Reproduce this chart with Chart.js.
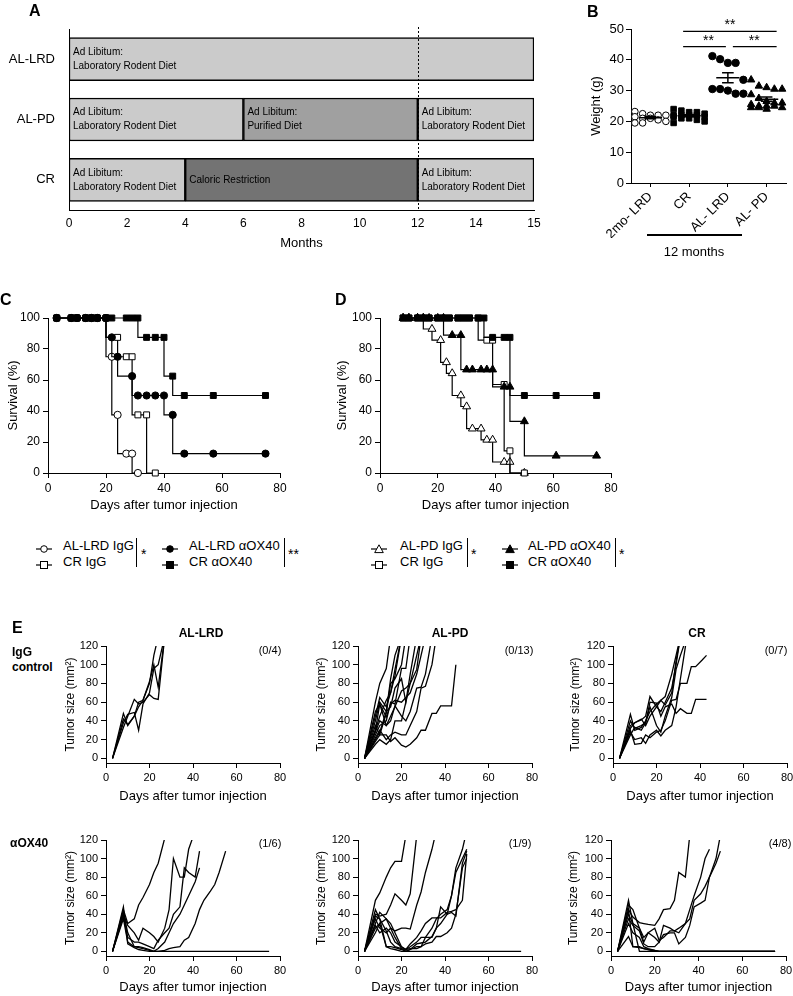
<!DOCTYPE html>
<html>
<head>
<meta charset="utf-8">
<script src="https://cdn.jsdelivr.net/npm/chart.js@4.4.1/dist/chart.umd.min.js"></script>
<style>
  html, body { margin: 0; padding: 0; background: #fff; overflow: hidden; }
  #fig { position: relative; width: 793px; height: 996px; overflow: hidden;
         font-family: "Liberation Sans", Arial, Helvetica, sans-serif; color: #000; }
  #fig canvas { position: absolute; }
  .t { position: absolute; white-space: nowrap; line-height: 1; }
  .rule { position: absolute; background: #000; }
</style>
</head>
<body>
<div id="fig"></div>
<script>
const FONT = "'Liberation Sans', Arial, Helvetica, sans-serif";
Chart.defaults.font.family = FONT;
Chart.defaults.color = "#000";

// ---------- A: diet timeline ----------
const dietGroups = ["AL-LRD", "AL-PD", "CR"];
const segGroup = [0, 1, 1, 1, 2, 2, 2];
const segStart = [0, 0, 6, 12, 0, 4, 12];
const segEnd = [15, 6, 12, 15, 4, 12, 15];
const segDiet = ["LRD", "LRD", "PD", "LRD", "LRD", "CR", "LRD"];
const dietText = {
  LRD: ["Ad Libitum:", "Laboratory Rodent Diet"],
  PD: ["Ad Libitum:", "Purified Diet"],
  CR: ["Caloric Restriction"],
};
const dietColor = { LRD: "#cbcbcb", PD: "#a0a0a0", CR: "#737373" };
const monthTicks = [0, 2, 4, 6, 8, 10, 12, 14, 15];

// ---------- B: body weight (g) ----------
const weightGroups = ["2mo- LRD", "CR", "AL- LRD", "AL- PD"];
const weight2moLRD = [23.2, 22.5, 22, 22, 21.5, 21, 20.5, 20, 19.5, 19.5, 21, 22];
const weightCR = [24, 23.5, 23, 22.5, 22, 22, 21.5, 21, 21, 20.5, 20, 19.5, 22, 23, 22, 21.5];
const weightALLRD = [41.2, 40.2, 39, 39, 33.5, 30.5, 30, 29, 29, 30.5];
const weightALPD = [33.5, 31.5, 31, 30.5, 30.5, 28.7, 27.5, 26.5, 26, 25.5, 25, 25, 24.5, 24.5, 24, 24.5, 25, 26];

// ---------- C: survival (%) ----------
const cDaysCRaOX40 = [3, 8, 10, 13, 15, 17, 20, 22, 27, 29, 31, 34, 37, 40, 43, 47, 57, 75];
const cSurvCRaOX40 = [100, 100, 100, 100, 100, 100, 100, 100, 100, 100, 100, 87.5, 87.5, 87.5, 62.5, 50, 50, 50];
const cDaysLRDaOX40 = [3, 8, 10, 13, 15, 17, 20, 22, 24, 29, 31, 34, 37, 40, 43, 47, 57, 75];
const cSurvLRDaOX40 = [100, 100, 100, 100, 100, 100, 100, 87.5, 75, 62.5, 50, 50, 50, 50, 37.5, 12.5, 12.5, 12.5];
const cDaysCRIgG = [3, 8, 10, 13, 15, 17, 20, 24, 27, 29, 31, 34, 37];
const cSurvCRIgG = [100, 100, 100, 100, 100, 100, 100, 87.5, 75, 75, 37.5, 37.5, 0];
const cDaysLRDIgG = [3, 8, 10, 13, 15, 17, 20, 22, 24, 27, 29, 31];
const cSurvLRDIgG = [100, 100, 100, 100, 100, 100, 100, 75, 37.5, 12.5, 12.5, 0];

// ---------- D: survival (%) ----------
const dDaysCRaOX40 = [8, 10, 13, 15, 17, 20, 22, 24, 27, 29, 31, 34, 36, 39, 43, 45, 50, 61, 75];
const dSurvCRaOX40 = [100, 100, 100, 100, 100, 100, 100, 100, 100, 100, 100, 100, 100, 87.5, 87.5, 87.5, 50, 50, 50];
const dDaysPDaOX40 = [8, 10, 13, 15, 17, 20, 22, 25, 28, 30, 32, 35, 37, 39, 43, 45, 50, 61, 75];
const dSurvPDaOX40 = [100, 100, 100, 100, 100, 100, 100, 88.9, 88.9, 66.7, 66.7, 66.7, 66.7, 66.7, 55.6, 55.6, 33.3, 11.1, 11.1];
const dDaysCRIgG = [8, 10, 13, 15, 17, 20, 22, 24, 27, 29, 31, 34, 37, 39, 43, 45, 50];
const dSurvCRIgG = [100, 100, 100, 100, 100, 100, 100, 100, 100, 100, 100, 100, 85.7, 85.7, 57.1, 14.3, 0];
const dDaysPDIgG = [8, 10, 13, 15, 18, 21, 23, 25, 28, 30, 32, 35, 37, 39, 43, 45, 50];
const dSurvPDIgG = [100, 100, 100, 100, 92.9, 85.7, 71.4, 64.3, 50, 42.9, 28.6, 28.6, 21.4, 21.4, 7.1, 7.1, 0];

// ---------- E: tumor size (mm2) per mouse, on these measurement days ----------
const measureDays = [3, 8, 10, 13, 15, 17, 20, 22, 24, 27, 29, 31, 34, 36, 38, 41, 43, 45, 48, 50, 52, 55, 57, 62, 66, 69, 75];
const tumorTicks = [0, 20, 40, 60, 80, 100, 120];

const tumorLRDIgG = [
  [0, 48, 35, 45, 60, 62, 80, 110, 130],
  [0, 38, 47, 49, 30, 58, 70, 96, 100, 130],
  [0, 33, 45, 63, 58, 60, 68, 64, 63, 130],
  [0, 42, 36, 45, 55, 62, 82, 100, 76, 130],
];
const tumorPDIgG = [
  [0, 60, 80, 96, 130],
  [0, 40, 60, 50, 85, 110, 130],
  [0, 30, 45, 62, 70, 88, 130],
  [0, 25, 35, 40, 60, 58, 96, 96, 130],
  [0, 20, 28, 50, 55, 75, 85, 60, 90, 130],
  [0, 15, 20, 15, 20, 40, 40, 60, 80, 110, 130],
  [0, 35, 25, 48, 80, 85, 100, 130],
  [0, 22, 30, 20, 25, 28, 25, 25, 35, 50, 75, 77, 100, 130],
  [0, 18, 25, 25, 18, 22, 14, 12, 15, 22, 30, 30, 48, 48, 56, 56, 56, 100],
  [0, 45, 65, 55, 70, 95, 130],
  [0, 28, 40, 35, 45, 55, 72, 75, 80, 95, 130],
  [0, 50, 58, 44, 58, 62, 60, 65, 70, 90, 110, 130],
  [0, 30, 58, 35, 40, 56, 45, 40, 50, 75, 76, 90, 130],
];
const tumorCRIgG = [
  [0, 47, 30, 33, 40, 50, 58, 62, 66, 90, 110, 130],
  [0, 35, 38, 41, 45, 66, 55, 50, 60, 75, 100, 130],
  [0, 30, 15, 16, 25, 22, 28, 30, 40, 62, 63, 80, 80, 98, 98, 105, 110],
  [0, 28, 20, 22, 16, 25, 30, 24, 30, 35, 55, 85, 130],
  [0, 40, 32, 35, 38, 60, 59, 45, 55, 58, 48, 53, 48, 48, 63, 63, 63],
  [0, 32, 38, 42, 35, 45, 55, 62, 57, 70, 104, 130],
  [0, 25, 33, 30, 38, 55, 35, 28, 45, 65, 95, 110, 130],
];
const tumorLRDaOX40 = [
  [0, 45, 30, 35, 50, 58, 72, 85, 95, 122],
  [0, 40, 28, 20, 12, 25, 20, 16, 10, 25, 45, 100, 80, 80, 110, 130],
  [0, 38, 15, 10, 10, 8, 5, 3, 12, 20, 25, 40, 48, 90, 85, 80, 108],
  [0, 42, 20, 5, 5, 4, 2, 0, 3, 10, 20, 30, 40, 50, 60, 75, 90],
  [0, 35, 10, 5, 4, 3, 1, 0, 0, 1, 3, 4, 5, 12, 15, 30, 45, 55, 65, 72, 85, 108],
  [0, 48, 8, 4, 2, 1, 0, 0, 0, 0, 0, 0, 0, 0, 0, 0, 0, 0, 0, 0, 0, 0, 0, 0, 0, 0, 0],
];
const tumorPDaOX40 = [
  [0, 55, 63, 80, 90, 97, 97, 125],
  [0, 40, 38, 40, 50, 62, 55, 50, 62, 125],
  [0, 30, 42, 35, 25, 22, 25, 25, 24, 50, 64, 85, 110, 130],
  [0, 25, 30, 35, 30, 20, 5, 2, 5, 10, 15, 15, 25, 35, 40, 45, 60, 90, 110, 130],
  [0, 35, 25, 20, 25, 15, 3, 0, 2, 8, 9, 10, 16, 25, 48, 40, 42, 38, 95, 108],
  [0, 45, 35, 5, 5, 4, 2, 0, 2, 5, 5, 8, 10, 16, 16, 20, 25, 40, 90, 100],
  [0, 28, 20, 25, 20, 10, 5, 2, 3, 3, 5, 15, 15, 25, 30, 40, 60, 85, 100, 110],
  [0, 38, 35, 22, 10, 5, 3, 2, 8, 15, 22, 30, 36, 36, 36, 42, 43, 45, 55, 105],
  [0, 20, 30, 5, 3, 2, 0, 0, 0, 0, 0, 0, 0, 0, 0, 0, 0, 0, 0, 0, 0, 0, 0, 0, 0, 0, 0],
];
const tumorCRaOX40 = [
  [0, 45, 37, 31, 30, 29, 28, 35, 45, 46, 55, 85, 80, 125],
  [0, 50, 45, 25, 15, 20, 25, 12, 15, 22, 22, 20, 30, 35, 55, 62, 70, 80, 100, 125],
  [0, 40, 30, 25, 10, 20, 15, 10, 28, 25, 22, 25, 30, 45, 60, 80, 100, 110],
  [0, 35, 28, 22, 8, 5, 5, 10, 18, 20, 20, 8, 15, 28, 48, 52, 55, 80, 95, 108],
  [0, 55, 30, 0, 0, 0, 0, 0, 0, 0, 0, 0, 0, 0, 0, 0, 0, 0, 0, 0, 0, 0, 0, 0, 0, 0, 0],
  [0, 16, 5, 5, 3, 2, 0, 0, 0, 0, 0, 0, 0, 0, 0, 0, 0, 0, 0, 0, 0, 0, 0, 0, 0, 0, 0],
  [0, 45, 5, 4, 3, 2, 1, 0, 0, 0, 0, 0, 0, 0, 0, 0, 0, 0, 0, 0, 0, 0, 0, 0, 0, 0, 0],
  [0, 30, 20, 15, 5, 3, 1, 0, 0, 0, 0, 0, 0, 0, 0, 0, 0, 0, 0, 0, 0, 0, 0, 0, 0, 0, 0],
];

const fig = document.getElementById("fig");

function addText(str, x, y, size, opts = {}) {
  const d = document.createElement("div");
  d.className = "t";
  d.textContent = str;
  d.style.left = x + "px";
  d.style.top = y + "px";
  d.style.fontSize = size + "px";
  if (opts.bold) d.style.fontWeight = "bold";
  const ax = opts.align === "center" ? "-50%" : opts.align === "right" ? "-100%" : "0";
  d.style.transform = `translate(${ax}, -50%)`;
  fig.appendChild(d);
}

function addRule(x, y, w, h) {
  const d = document.createElement("div");
  d.className = "rule";
  d.style.left = x + "px";
  d.style.top = y + "px";
  d.style.width = w + "px";
  d.style.height = h + "px";
  fig.appendChild(d);
}

function legendIcon(cx, cy, shape, filled) {
  const fill = filled ? "#000" : "#fff";
  let mark;
  if (shape === "circle") mark = `<circle cx="8" cy="5" r="3.3" fill="${fill}" stroke="#000" stroke-width="1"/>`;
  else if (shape === "rect") mark = `<rect x="4.5" y="1.5" width="7" height="7" fill="${fill}" stroke="#000" stroke-width="1"/>`;
  else mark = `<polygon points="8,0.8 12.3,8.6 3.7,8.6" fill="${fill}" stroke="#000" stroke-width="1"/>`;
  const wrap = document.createElement("div");
  wrap.style.position = "absolute";
  wrap.style.left = (cx - 8) + "px";
  wrap.style.top = (cy - 5) + "px";
  wrap.innerHTML = `<svg width="16" height="10" xmlns="http://www.w3.org/2000/svg">
    <line x1="0" y1="5" x2="16" y2="5" stroke="#000" stroke-width="1.2"/>${mark}</svg>`;
  fig.appendChild(wrap);
}

// places a canvas so that the chart area lands on plot {l, r, t, b}
function makeChart(plot, space, config) {
  const [top, right, bottom, left] = space;
  const canvas = document.createElement("canvas");
  const w = plot.r - plot.l + left + right;
  const h = plot.b - plot.t + top + bottom;
  canvas.width = w;
  canvas.height = h;
  canvas.style.left = (plot.l - left) + "px";
  canvas.style.top = (plot.t - top) + "px";
  canvas.style.width = w + "px";
  canvas.style.height = h + "px";
  fig.appendChild(canvas);
  const o = config.options;
  o.responsive = false;
  o.animation = false;
  o.devicePixelRatio = 1;
  o.layout = { padding: { top: top, right: right, left: 0, bottom: 0 } };
  o.plugins = Object.assign({ legend: { display: false }, tooltip: { enabled: false } }, o.plugins || {});
  o.scales.x.afterFit = (s) => { s.height = bottom; };
  o.scales.y.afterFit = (s) => { s.width = left; };
  return new Chart(canvas, config);
}

const tickGrid = { display: true, drawOnChartArea: false, drawTicks: true, tickLength: 5, color: "#000", lineWidth: 1 };
const axisBorder = { display: true, color: "#000", width: 1 };

// ================= Panel A =================
// the schematic stretches the last month (14 -> 15) over two units
function monthPos(m) {
  return m <= 14 ? m : 14 + (m - 14) * 2;
}

const dietLabelPlugin = {
  id: "dietLabels",
  afterDatasetsDraw(chart) {
    const { ctx, scales: { x, y }, chartArea } = chart;
    ctx.save();
    ctx.font = "10px " + FONT;
    ctx.fillStyle = "#000";
    ctx.textBaseline = "middle";
    segGroup.forEach((g, i) => {
      const lines = dietText[segDiet[i]];
      const px = x.getPixelForValue(monthPos(segStart[i])) + 4;
      const py = y.getPixelForValue(g);
      lines.forEach((line, k) => {
        ctx.fillText(line, px, py + (k - (lines.length - 1) / 2) * 14);
      });
    });
    const lx = Math.round(x.getPixelForValue(monthPos(12))) + 0.5;
    ctx.setLineDash([2, 2]);
    ctx.lineWidth = 1;
    ctx.strokeStyle = "#000";
    ctx.beginPath();
    ctx.moveTo(lx, chartArea.top - 2);
    ctx.lineTo(lx, chartArea.bottom);
    ctx.stroke();
    ctx.restore();
  },
};

makeChart({ l: 69, r: 534, t: 29, b: 210 }, [24, 14, 41, 69], {
  type: "bar",
  data: {
    labels: dietGroups,
    datasets: segGroup.map((g, i) => ({
      data: dietGroups.map((_, j) => (j === g ? [monthPos(segStart[i]), monthPos(segEnd[i])] : null)),
      backgroundColor: dietColor[segDiet[i]],
      borderColor: "#000",
      borderWidth: 1.5,
      borderSkipped: false,
      barThickness: 43,
      grouped: false,
    })),
  },
  options: {
    indexAxis: "y",
    scales: {
      x: {
        type: "linear",
        min: 0,
        max: monthPos(15),
        afterBuildTicks: (s) => { s.ticks = monthTicks.map((m) => ({ value: monthPos(m) })); },
        ticks: { font: { size: 12 }, padding: 6, callback: (v, i) => monthTicks[i] },
        grid: { display: false, drawTicks: false },
        border: axisBorder,
        title: { display: true, text: "Months", font: { size: 13 }, padding: 0 },
      },
      y: {
        type: "category",
        ticks: { font: { size: 13 }, padding: 14 },
        grid: { display: false, drawTicks: false },
        border: axisBorder,
      },
    },
  },
  plugins: [dietLabelPlugin],
});

// ================= Panel B =================
const weightSets = [weight2moLRD, weightCR, weightALLRD, weightALPD];
const weightShape = ["circle", "rect", "circle", "triangle"];
const weightFilled = [false, true, true, true];
const weightRadius = [3.3, 3.9, 3.7, 4.3];

// spread points sideways by rank so the swarm stays readable
function swarm(values, g) {
  const order = values.map((v, i) => i).sort((a, b) => values[b] - values[a]);
  const pts = [];
  order.forEach((idx, k) => {
    pts.push({ x: g + ((k % 5) - 2) * 0.2, y: values[idx] });
  });
  return pts;
}

function meanSem(values) {
  const n = values.length;
  const mean = values.reduce((a, b) => a + b, 0) / n;
  const sd = Math.sqrt(values.reduce((a, b) => a + (b - mean) * (b - mean), 0) / (n - 1));
  return { mean: mean, sem: sd / Math.sqrt(n) };
}

const weightStatsPlugin = {
  id: "weightStats",
  afterDatasetsDraw(chart) {
    const { ctx, scales: { x, y } } = chart;
    ctx.save();
    ctx.strokeStyle = "#000";
    ctx.lineWidth = 1.5;
    weightSets.forEach((vals, g) => {
      const { mean, sem } = meanSem(vals);
      const cx = x.getPixelForValue(g);
      const hw = x.getPixelForValue(0.3) - x.getPixelForValue(0);
      const cw = hw / 2;
      const ym = y.getPixelForValue(mean);
      const yt = y.getPixelForValue(mean + sem);
      const yb = y.getPixelForValue(mean - sem);
      ctx.beginPath();
      ctx.moveTo(cx - hw, ym); ctx.lineTo(cx + hw, ym);
      ctx.moveTo(cx, yt); ctx.lineTo(cx, yb);
      ctx.moveTo(cx - cw, yt); ctx.lineTo(cx + cw, yt);
      ctx.moveTo(cx - cw, yb); ctx.lineTo(cx + cw, yb);
      ctx.stroke();
    });
    // significance bars
    const yHigh = y.getPixelForValue(49.2);
    const yLow = y.getPixelForValue(44.3);
    const px = (v) => x.getPixelForValue(v);
    ctx.lineWidth = 1.3;
    ctx.beginPath();
    ctx.moveTo(px(1) - 6, yHigh); ctx.lineTo(px(3) + 10, yHigh);
    ctx.moveTo(px(1) - 6, yLow); ctx.lineTo(px(2) - 2, yLow);
    ctx.moveTo(px(2) + 5, yLow); ctx.lineTo(px(3) + 10, yLow);
    ctx.stroke();
    ctx.fillStyle = "#000";
    ctx.font = "14px " + FONT;
    ctx.textAlign = "center";
    ctx.textBaseline = "alphabetic";
    ctx.fillText("**", (px(1) + px(3)) / 2 + 2, yHigh - 2);
    ctx.fillText("**", (px(1) + px(2)) / 2, yLow - 2);
    ctx.fillText("**", (px(2) + px(3)) / 2 + 7, yLow - 2);
    ctx.restore();
  },
};

makeChart({ l: 631, r: 786, t: 29, b: 183 }, [30, 7, 55, 42], {
  type: "scatter",
  data: {
    datasets: weightSets.map((vals, g) => ({
      data: swarm(vals, g),
      pointStyle: weightShape[g],
      pointRadius: weightRadius[g],
      pointBackgroundColor: weightFilled[g] ? "#000" : "#fff",
      pointBorderColor: "#000",
      pointBorderWidth: 1,
      clip: false,
    })),
  },
  options: {
    scales: {
      x: {
        type: "linear",
        min: -0.5,
        max: 3.5,
        afterBuildTicks: (s) => { s.ticks = weightGroups.map((_, i) => ({ value: i })); },
        ticks: { font: { size: 13 }, minRotation: 45, maxRotation: 45, padding: 2, callback: (v, i) => weightGroups[i] },
        grid: Object.assign({}, tickGrid, { tickLength: 4 }),
        border: axisBorder,
      },
      y: {
        min: 0,
        max: 50,
        ticks: { stepSize: 10, font: { size: 13 }, padding: 2 },
        grid: tickGrid,
        border: axisBorder,
        title: { display: true, text: "Weight (g)", font: { size: 13 }, padding: 0 },
      },
    },
  },
  plugins: [weightStatsPlugin],
});
addRule(647, 234, 95, 1.5);
addText("12 months", 694, 251, 13, { align: "center" });

// ================= Panels C and D =================
function survivalSet(days, surv, shape, filled) {
  return {
    data: days.map((d, i) => ({ x: d, y: surv[i] })),
    stepped: "after",
    borderColor: "#000",
    borderWidth: 1.2,
    pointStyle: shape,
    pointRadius: shape === "rect" ? 4.2 : shape === "triangle" ? 4.6 : 3.6,
    pointBackgroundColor: filled ? "#000" : "#fff",
    pointBorderColor: "#000",
    pointBorderWidth: 1,
    clip: false,
  };
}

function survivalChart(plot, leftSpace, datasets) {
  makeChart(plot, [12, 14, 40, leftSpace], {
    type: "line",
    data: { datasets: datasets },
    options: {
      scales: {
        x: {
          type: "linear",
          min: 0,
          max: 80,
          ticks: { stepSize: 20, font: { size: 12 }, padding: 3 },
          grid: tickGrid,
          border: axisBorder,
          title: { display: true, text: "Days after tumor injection", font: { size: 13 }, padding: 0 },
        },
        y: {
          min: 0,
          max: 100,
          ticks: { stepSize: 20, font: { size: 12 }, padding: 3 },
          grid: tickGrid,
          border: axisBorder,
          title: { display: true, text: "Survival (%)", font: { size: 13 }, padding: 0 },
        },
      },
    },
  });
}

survivalChart({ l: 48, r: 280, t: 318, b: 473 }, 42, [
  survivalSet(cDaysCRaOX40, cSurvCRaOX40, "rect", true),
  survivalSet(cDaysLRDaOX40, cSurvLRDaOX40, "circle", true),
  survivalSet(cDaysCRIgG, cSurvCRIgG, "rect", false),
  survivalSet(cDaysLRDIgG, cSurvLRDIgG, "circle", false),
]);

survivalChart({ l: 380, r: 611, t: 318, b: 473 }, 45, [
  survivalSet(dDaysCRaOX40, dSurvCRaOX40, "rect", true),
  survivalSet(dDaysPDaOX40, dSurvPDaOX40, "triangle", true),
  survivalSet(dDaysCRIgG, dSurvCRIgG, "rect", false),
  survivalSet(dDaysPDIgG, dSurvPDIgG, "triangle", false),
]);

// legends C
legendIcon(43.5, 545, "circle", false);
addText("AL-LRD IgG", 63, 545, 13);
legendIcon(43.5, 561, "rect", false);
addText("CR IgG", 63, 561, 13);
addRule(136, 538, 1.3, 29);
addText("*", 141, 554, 14);
legendIcon(170, 545, "circle", true);
addText("AL-LRD \u03b1OX40", 189, 545, 13);
legendIcon(170, 561, "rect", true);
addText("CR \u03b1OX40", 189, 561, 13);
addRule(284, 538, 1.3, 29);
addText("**", 288, 554, 14);

// legends D
legendIcon(379, 545, "triangle", false);
addText("AL-PD IgG", 400, 545, 13);
legendIcon(379, 561, "rect", false);
addText("CR IgG", 400, 561, 13);
addRule(467, 538, 1.3, 29);
addText("*", 471, 554, 14);
legendIcon(510, 545, "triangle", true);
addText("AL-PD \u03b1OX40", 528, 545, 13);
legendIcon(510, 561, "rect", true);
addText("CR \u03b1OX40", 528, 561, 13);
addRule(615, 538, 1.3, 29);
addText("*", 619, 554, 14);

// ================= Panel E =================
function tumorChart(plot, leftSpace, bottomSpace, mice) {
  makeChart(plot, [12, 14, bottomSpace, leftSpace], {
    type: "line",
    data: {
      datasets: mice.map((vals) => ({
        data: vals.map((v, i) => ({ x: measureDays[i], y: v })),
        borderColor: "#000",
        borderWidth: 1.3,
        pointRadius: 0,
        tension: 0,
      })),
    },
    options: {
      scales: {
        x: {
          type: "linear",
          min: 0,
          max: 80,
          ticks: { stepSize: 20, font: { size: 11 }, padding: 3 },
          grid: tickGrid,
          border: axisBorder,
          title: { display: true, text: "Days after tumor injection", font: { size: 13 }, padding: 0 },
        },
        y: {
          min: -5,
          max: 120,
          afterBuildTicks: (s) => { s.ticks = tumorTicks.map((v) => ({ value: v })); },
          ticks: { font: { size: 11 }, padding: 3 },
          grid: tickGrid,
          border: axisBorder,
          title: { display: true, text: "Tumor size (mm\u00b2)", font: { size: 12 }, padding: 0 },
        },
      },
    },
  });
}

tumorChart({ l: 106, r: 280, t: 646, b: 763 }, 43, 41, tumorLRDIgG);
tumorChart({ l: 358, r: 532, t: 646, b: 763 }, 44, 41, tumorPDIgG);
tumorChart({ l: 613, r: 787, t: 646, b: 763 }, 45, 41, tumorCRIgG);
tumorChart({ l: 106, r: 280, t: 840, b: 956 }, 43, 39, tumorLRDaOX40);
tumorChart({ l: 358, r: 532, t: 840, b: 956 }, 44, 39, tumorPDaOX40);
tumorChart({ l: 611, r: 786, t: 840, b: 956 }, 45, 39, tumorCRaOX40);

addText("AL-LRD", 201, 633, 12, { bold: true, align: "center" });
addText("AL-PD", 450, 633, 12, { bold: true, align: "center" });
addText("CR", 697, 633, 12, { bold: true, align: "center" });
addText("(0/4)", 270, 650, 11, { align: "center" });
addText("(0/13)", 519, 650, 11, { align: "center" });
addText("(0/7)", 776, 650, 11, { align: "center" });
addText("(1/6)", 270, 843, 11, { align: "center" });
addText("(1/9)", 520, 843, 11, { align: "center" });
addText("(4/8)", 780, 843, 11, { align: "center" });
addText("IgG", 12, 652, 12, { bold: true });
addText("control", 12, 667, 12, { bold: true });
addText("\u03b1OX40", 10, 843, 12, { bold: true });

// panel letters
addText("A", 29, 11, 16, { bold: true });
addText("B", 587, 12, 16, { bold: true });
addText("C", 0, 300, 16, { bold: true });
addText("D", 335, 300, 16, { bold: true });
addText("E", 12, 628, 16, { bold: true });
</script>
</body>
</html>
